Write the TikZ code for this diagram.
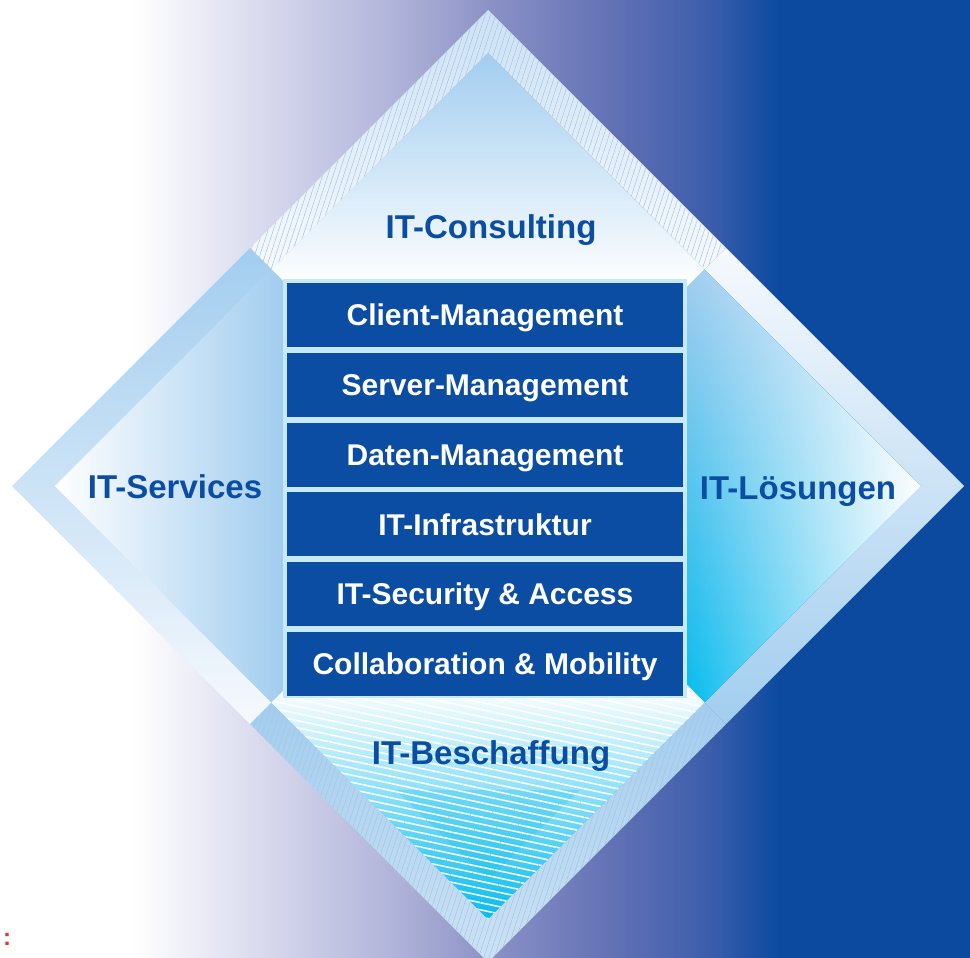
\documentclass[tikz,border=0pt]{standalone}
\usepackage{fontspec}
\setmainfont{Liberation Sans}
\usetikzlibrary{positioning,fadings,patterns.meta}

\definecolor{itblue}{HTML}{0B4DA2}
\definecolor{bgA}{HTML}{DCDDEF}
\definecolor{bgB}{HTML}{AEB2D8}
\definecolor{bgC}{HTML}{8C92C6}
\definecolor{bgD}{HTML}{6070B4}
\definecolor{bgE}{HTML}{3B5DAB}
\definecolor{bgF}{HTML}{0B4A9F}
\definecolor{paleblue}{HTML}{A2CDEF}
\definecolor{lightband}{HTML}{CCE2F5}
\definecolor{whiteband}{HTML}{F6F9FD}
\definecolor{skyblue}{HTML}{05BCEF}
\definecolor{skypale}{HTML}{BDE7F8}
\definecolor{framecyan}{HTML}{C8E9F8}
\definecolor{hatchblue}{HTML}{A8C4E0}
\definecolor{notered}{HTML}{E8313A}

\pgfdeclarehorizontalshading{bgshade}{100bp}{color(0bp)=(white); color(31.86bp)=(white);
  color(37.89bp)=(bgA); color(45.62bp)=(bgB); color(50.15bp)=(bgC); color(56.86bp)=(bgD);
  color(61.65bp)=(bgE); color(65.15bp)=(bgF); color(100bp)=(bgF)}

\begin{document}
\begin{tikzpicture}[x=1pt,y=-1pt,
  box/.style={fill=itblue,text=white,minimum width=396pt,minimum height=64pt,inner sep=0pt,
    text height=21.5pt,text depth=0pt,font=\fontsize{30}{32}\selectfont\bfseries},
  area label/.style={text=itblue,inner sep=0pt,text height=23.7pt,text depth=0pt,
    font=\fontsize{33}{35}\selectfont\bfseries},
  hatch/.style={pattern={Lines[angle=72,distance=5pt,line width=.5pt]},pattern color=hatchblue}]
  \useasboundingbox (0,0) rectangle (970,958);
  \shade[shading=bgshade] (0,0) rectangle (970,958);

  % corners of the diamond and of its inner edge
  \coordinate (C) at (488,486);
  \coordinate (OT) at (488,10);   \coordinate (OB) at (488,962);
  \coordinate (OL) at (12,486);   \coordinate (OR) at (964,486);
  \coordinate (IT) at (488,53);   \coordinate (IB) at (488,919);
  \coordinate (IL) at (55,486);   \coordinate (IR) at (921,486);
  \coordinate (MTL) at (250,248); \coordinate (MTR) at (726,248);
  \coordinate (MBL) at (250,724); \coordinate (MBR) at (726,724);
  \coordinate (NTL) at (271.5,269.5); \coordinate (NTR) at (704.5,269.5);
  \coordinate (NBL) at (271.5,702.5); \coordinate (NBR) at (704.5,702.5);

  % top
  \shade[top color=lightband,bottom color=whiteband] (OT) -- (MTR) -- (NTR) -- (IT) -- (NTL) -- (MTL) -- cycle;
  \fill[hatch] (OT) -- (MTR) -- (NTR) -- (IT) -- (NTL) -- (MTL) -- cycle;
  \shade[top color=paleblue,bottom color=white] (IT) -- (NTR) -- (687,287) -- (283,281) -- (NTL) -- cycle;
  % left
  \shade[top color=paleblue,bottom color=whiteband] (OL) -- (MTL) -- (NTL) -- (IL) -- (NBL) -- (MBL) -- cycle;
  \shade[left color=white,right color=paleblue] (IL) -- (NTL) -- (283,281) -- (283,691) -- (NBL) -- cycle;
  % right
  \shade[top color=whiteband,bottom color=paleblue] (OR) -- (MTR) -- (NTR) -- (IR) -- (NBR) -- (MBR) -- cycle;
  \shade[top color=paleblue,middle color=white!80!paleblue,bottom color=skyblue]
    (IR) -- (NTR) -- (687,287) -- (687,685) -- (NBR) -- cycle;
  \fill[white,path fading=west] (IR) -- (NTR) -- (687,287) -- (687,685) -- (NBR) -- cycle;
  % bottom
  \shade[top color=paleblue,bottom color=lightband] (OB) -- (MBL) -- (NBL) -- (IB) -- (NBR) -- (MBR) -- cycle;
  \fill[hatch] (OB) -- (MBL) -- (NBL) -- (IB) -- (NBR) -- (MBR) -- cycle;
  \shade[top color=white,middle color=skypale,bottom color=skyblue]
    (NBL) -- (283,691) -- (687,685) -- (NBR) -- (IB) -- cycle;
  \fill[skyblue,fill opacity=.22] (396,790) -- (580,790) -- (488,880) -- cycle;
  \fill[pattern={Lines[angle=-12,distance=7pt,line width=1.5pt]},pattern color=white,fill opacity=.2]
    (NBL) -- (283,691) -- (687,685) -- (NBR) -- (IB) -- cycle;

  % centre stack
  \fill[framecyan] (283,279) rectangle (687,698);
  \node[box] (client) at (485,315) {Client-Management};
  \node[box,below=5.4pt of client] (server) {Server-Management};
  \node[box,below=5.4pt of server] (daten) {Daten-Management};
  \node[box,below=5.4pt of daten] (infra) {IT-Infrastruktur};
  \node[box,below=5.4pt of infra] (security) {IT-Security \& Access};
  \node[box,below=5.4pt of security] (collab) {Collaboration \& Mobility};

  \node[area label] (consulting) at (491,227) {IT-Consulting};
  \node[area label] (services) at (175,487) {IT-Services};
  \node[area label] (loesungen) at (798,488) {IT-Lösungen};
  \node[area label] (beschaffung) at (491,753) {IT-Beschaffung};

  \node[anchor=base west,inner sep=0pt,text=notered,font=\fontsize{24}{26}\selectfont\bfseries] (cut) at (3,945) {:};
\end{tikzpicture}
\end{document}
